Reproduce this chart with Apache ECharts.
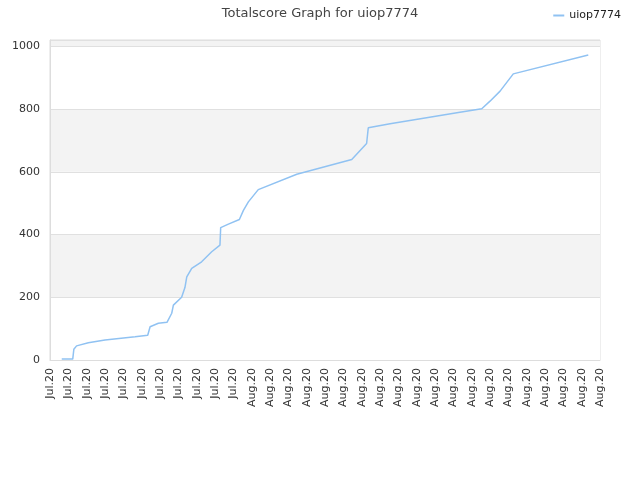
<!DOCTYPE html>
<html>
<head>
<meta charset="utf-8">
<script src="https://cdn.jsdelivr.net/npm/echarts@6/dist/echarts.min.js"></script>
<style>html,body{margin:0;padding:0;background:#fff}#c{width:640px;height:480px}</style>
</head>
<body>
<div id="c"></div>
<script>
var tickLabels = ["Jul.20","Jul.20","Jul.20","Jul.20","Jul.20","Jul.20","Jul.20","Jul.20","Jul.20","Jul.20","Jul.20",
  "Aug.20","Aug.20","Aug.20","Aug.20","Aug.20","Aug.20","Aug.20","Aug.20","Aug.20","Aug.20",
  "Aug.20","Aug.20","Aug.20","Aug.20","Aug.20","Aug.20","Aug.20","Aug.20","Aug.20","Aug.20"];
var xPos = [0.64,1.24,1.30,1.45,2.09,3.0,4.64,5.33,5.46,5.91,6.38,6.64,6.73,7.18,7.36,7.46,7.73,8.27,8.82,9.27,9.31,9.73,10.33,10.55,10.82,11.36,13.46,16.46,17.27,17.36,18.55,22.36,23.55,24.0,24.55,25.27,29.36];
var scores = [3,3,34,45,55,64,74,79,106,117,120,149,175,200,231,265,292,313,345,366,422,433,448,477,504,543,592,639,690,740,753,790,801,825,857,912,972];
var seriesName = "uiop7774";

var pts = xPos.map(function(x,i){return [x, scores[i]];});
var chart = echarts.init(document.getElementById('c'));
var font = 'DejaVu Sans';
chart.setOption({
  animation:false,
  title:{text:'Totalscore Graph for ' + seriesName, left:'center', top:2,
    textStyle:{fontFamily:font, fontSize:13, fontWeight:'normal', color:'#444'}},
  legend:{right:14, top:5, icon:'rect', itemWidth:11, itemHeight:2, itemGap:8,
    textStyle:{fontFamily:font, fontSize:11, color:'#222'}, data:[seriesName]},
  grid:{left:50, right:40, top:40, bottom:120, show:true, borderColor:'#ddd', borderWidth:1},
  xAxis:{type:'value', min:0, max:tickLabels.length-1, interval:1,
    axisLine:{show:true, lineStyle:{color:'#ddd'}}, axisTick:{show:false},
    splitLine:{show:false},
    axisLabel:{rotate:90, fontFamily:font, fontSize:11, color:'#333', margin:8,
      formatter:function(v){return tickLabels[Math.round(v)] || '';}}},
  yAxis:{type:'value', min:0, max:1020, interval:200,
    axisLine:{show:true, lineStyle:{color:'#ddd'}}, axisTick:{show:false},
    splitLine:{show:true, lineStyle:{color:'#e0e0e0'}},
    splitArea:{show:true, areaStyle:{color:['#ffffff','#f3f3f3']}},
    axisLabel:{fontFamily:font, fontSize:11, color:'#333', margin:10,
      formatter:function(v){return v % 200 === 0 ? String(v) : '';}}},
  series:[{name:seriesName, type:'line', data:pts, showSymbol:false, symbol:'none',
    lineStyle:{color:'#90c2f2', width:1.5}, itemStyle:{color:'#90c2f2'}}]
});
</script>
</body>
</html>
